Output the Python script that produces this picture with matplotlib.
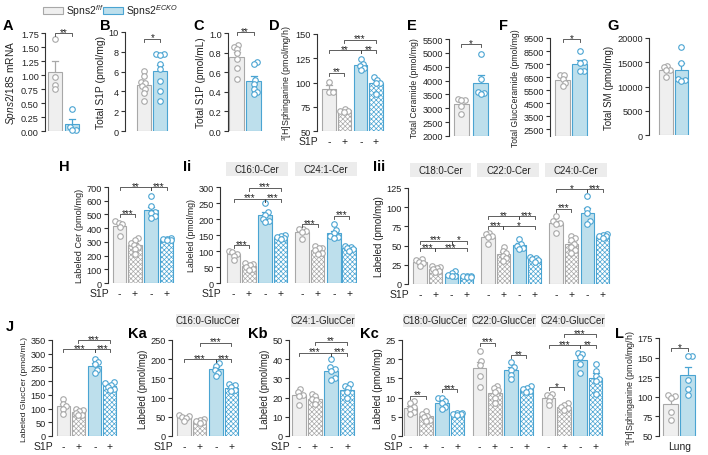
import numpy as np
import matplotlib
matplotlib.use("Agg")
import matplotlib.pyplot as plt
from matplotlib.patches import Rectangle
from matplotlib import transforms

plt.rcParams['font.family'] = ['Liberation Sans', 'DejaVu Sans']
plt.rcParams['mathtext.fontset'] = 'custom'
plt.rcParams['mathtext.rm'] = 'Liberation Sans'
plt.rcParams['mathtext.it'] = 'Liberation Sans:italic'
plt.rcParams['mathtext.bf'] = 'Liberation Sans:bold'
plt.rcParams['hatch.linewidth'] = 0.5

# ------------------------------------------------------------------ data
legend_labels = ["Spns2$^{f/f}$", "Spns2$^{ECKO}$"]
s1p_ticks = ["-", "+", "-", "+"]

A_ff = [1.65, 0.97, 0.83, 0.75]
A_ko = [0.40, 0.08, 0.02, 0.02]
B_ff = [6.1, 5.6, 5.0, 4.8, 4.5, 4.2, 3.8, 3.0]
B_ko = [7.8, 7.8, 7.7, 6.8, 6.3, 5.1, 4.0, 3.0]
C_ff = [0.88, 0.86, 0.84, 0.80, 0.73, 0.64, 0.53]
C_ko = [0.70, 0.68, 0.52, 0.48, 0.43, 0.40, 0.38]
D_groups = [[101, 90, 90], [73, 71, 71, 70],
            [124, 119, 117, 115, 113], [106, 103, 100, 99, 88]]
E_ff = [3350, 3300, 3300, 3100, 2800]
E_ko = [4950, 4050, 3600, 3550, 3500]
F_ff = [6700, 6650, 6350, 6050, 5800]
F_ko = [8500, 7650, 7600, 7000, 6950]
G_ff = [14300, 14000, 13500, 13300, 11900]
G_ko = [18100, 14800, 11600, 11300, 11200]

H_groups = [[455, 440, 430, 410, 345], [325, 310, 290, 280, 265, 245, 210],
            [635, 560, 520, 510, 490, 475], [325, 320, 318, 315, 312]]

Ii_names = ["C16:0-Cer", "C24:1-Cer"]
Ii_C16 = [[100, 97, 92, 85, 72], [62, 58, 55, 50, 45, 42],
          [250, 222, 212, 200, 195, 190], [150, 148, 145, 142, 138]]
Ii_C241 = [[170, 168, 162, 160, 138], [115, 110, 108, 102, 95, 92],
           [185, 165, 155, 148, 145, 142], [115, 112, 110, 105, 100]]

Iii_names = ["C18:0-Cer", "C22:0-Cer", "C24:0-Cer"]
Iii_C18 = [[33, 31, 29, 27, 24], [24, 22, 21, 19, 17, 15],
           [17, 14, 12, 11, 10], [11, 10, 10, 9, 9]]
Iii_C22 = [[66, 65, 63, 61, 52], [48, 43, 40, 37, 34, 30],
           [58, 52, 50, 47, 46], [35, 34, 33, 31, 29]]
Iii_C24 = [[88, 82, 80, 78, 67], [63, 60, 57, 52, 48, 44, 41],
           [115, 98, 92, 82, 78], [65, 64, 63, 62, 60]]

J_groups = [[135, 118, 110, 100, 82], [100, 95, 90, 85, 78, 75],
            [280, 270, 262, 240, 228], [197, 192, 185, 180, 170, 168]]
Ka_name = "C16:0-GlucCer"
Ka_groups = [[55, 53, 50, 47, 38], [45, 42, 40, 37, 35],
             [190, 183, 172, 165, 157], [135, 132, 127, 120, 116]]
Kb_name = "C24:1-GlucCer"
Kb_groups = [[24.5, 23, 21.5, 21, 16], [22, 21, 19.5, 18.5, 16.5],
             [40, 36, 35, 34, 30, 29], [27, 26, 25, 23, 20]]
Kc_names = ["C18:0-GlucCer", "C22:0-GlucCer", "C24:0-GlucCer"]
Kc_C18 = [[9, 8.5, 7.5, 7, 6.2, 5.8], [6.5, 5.8, 5.3, 4.9, 4.2, 4.0],
          [10, 9.8, 9, 8.5, 7.5, 7], [6.0, 5.9, 5.8, 5.6, 5.5]]
Kc_C22 = [[22.2, 19.5, 18.5, 15.5, 12.8], [13, 12.5, 12, 11.5, 10, 8.5],
          [19.3, 18, 17.2, 16, 14.8], [12.9, 12.5, 12.2, 11.8, 11.5]]
Kc_C24 = [[11, 10.8, 10.2, 9.2, 8], [8.5, 8.2, 7.5, 7.2, 6.8],
          [21.7, 21.4, 20.5, 18.7, 16.5], [18.7, 17, 15.5, 14.8, 14.4, 11]]
L_ff = [102, 101, 99, 81, 70]
L_ko = [152, 152, 121, 110, 102]
L_label = "Lung"

# significance: (bar i, bar j, level, label)
A_sig = [(0, 1, 1.75, "**")]
B_sig = [(0, 1, 9.3, "*")]
C_sig = [(0, 1, 1.01, "**")]
D_sig = [(0, 1, 110, "**"), (0, 2, 133, "**"), (2, 3, 133, "**"), (1, 3, 144, "***")]
E_sig = [(0, 1, 5320, "*")]
F_sig = [(0, 1, 9400, "*")]
H_sig = [(0, 1, 500, "***"), (0, 2, 700, "**"), (2, 3, 700, "***")]
Ii_sig = [(0, 1, 118, "***"), (0, 2, 264, "***"), (2, 3, 264, "***"), (1, 3, 298, "***"),
          (4, 5, 184, "***"), (6, 7, 210, "***")]
Iii_sig = [(0, 1, 46.6, "***"), (1, 3, 46.6, "***"), (0, 2, 56.6, "***"), (2, 3, 56.6, "*"),
           (4, 5, 75, "***"), (5, 7, 75, "*"), (4, 6, 88, "**"), (6, 7, 88, "***"),
           (8, 9, 97.7, "***"), (8, 10, 123.7, "*"), (10, 11, 123.7, "***")]
J_sig = [(0, 2, 316, "***"), (2, 3, 316, "***"), (1, 3, 350, "***")]
Ka_sig = [(0, 2, 200, "***"), (2, 3, 200, "***"), (1, 3, 243, "***")]
Kb_sig = [(0, 2, 43.4, "***"), (2, 3, 43.4, "***"), (1, 3, 49, "**")]
Kc_sig = [(0, 1, 10.5, "**"), (2, 3, 12.2, "***"),
          (4, 5, 24.3, "***"), (6, 7, 21, "**"),
          (8, 9, 12.7, "*"), (8, 10, 23.6, "***"), (10, 11, 23.6, "**"), (9, 11, 26.5, "***")]
L_sig = [(0, 1, 162, "*")]

# ------------------------------------------------------------------ style
FF_FACE, FF_EDGE = "#efefef", "#a8a8a8"
KO_FACE, KO_EDGE = "#bddfec", "#4aa4d2"
AX_C = "#333333"
SIG_C = "#444444"
W, H = 708, 456

fig = plt.figure(figsize=(W / 100, H / 100), dpi=100)


def make_ax(l, r, t, b, xlim, ylim, yticks, fmt="{:g}"):
    ax = fig.add_axes([l / W, 1 - b / H, (r - l) / W, (b - t) / H])
    ax.set_xlim(*xlim)
    ax.set_ylim(*ylim)
    ax.set_yticks(yticks)
    ax.set_yticklabels([fmt.format(v) for v in yticks])
    for s in ("top", "right", "bottom"):
        ax.spines[s].set_visible(False)
    ax.spines["left"].set_linewidth(0.8)
    ax.spines["left"].set_color(AX_C)
    ax.tick_params(axis="y", length=3, width=0.8, pad=1.5, labelsize=6.6,
                   color=AX_C, labelcolor="#222222")
    ax.tick_params(axis="x", length=0, pad=3.5, labelsize=7.5, labelcolor="#222222")
    ax.set_xticks([])
    ax.patch.set_visible(False)
    return ax


def swarm(ax, p, vals, d=4.0, maxoff=0.3):
    T = ax.transData
    vals = np.asarray(vals, float)
    ys = T.transform(np.column_stack([np.full(len(vals), p), vals]))[:, 1]
    ppx = T.transform((p + 1, 0))[0] - T.transform((p, 0))[0]
    lim = maxoff * ppx
    placed = []
    xs = np.zeros(len(vals))
    for i in np.argsort(ys):
        y = ys[i]
        cands = [0.0]
        for xo, yo in placed:
            dy = abs(y - yo)
            if dy < d:
                dx = np.sqrt(d * d - dy * dy)
                cands += [xo + dx, xo - dx]
        cands = [c for c in cands if abs(c) <= lim] + [lim, -lim]
        cands.sort(key=abs)
        best, bestov = 0.0, None
        for c in cands:
            ov = sum(max(0.0, d * d - ((c - xo) ** 2 + (y - yo) ** 2)) for xo, yo in placed)
            if ov <= 1e-6:
                best = c
                break
            if bestov is None or ov < bestov:
                best, bestov = c, ov
        placed.append((best, y))
        xs[i] = p + best / ppx
    return xs


def draw_bars(ax, positions, groups, kinds, width=0.88):
    y0 = ax.get_ylim()[0]
    ppx = ax.transData.transform((1, 0))[0] - ax.transData.transform((0, 0))[0]
    for p, vals, (ko, plus) in zip(positions, groups, kinds):
        v = np.asarray(vals, float)
        m = v.mean()
        sem = v.std(ddof=1) / np.sqrt(len(v))
        edge = KO_EDGE if ko else FF_EDGE
        if plus:
            face = "white"
            hatch = "xxxxxxx"
        else:
            face = KO_FACE if ko else FF_FACE
            hatch = None
        ax.bar(p, m - y0, bottom=y0, width=width, color=face, edgecolor=edge,
               linewidth=0.8, hatch=hatch, zorder=1)
        cw = 3.0 / ppx
        ax.plot([p, p], [m, m + sem], color=edge, lw=0.9, zorder=2, solid_capstyle="butt")
        ax.plot([p - cw, p + cw], [m + sem, m + sem], color=edge, lw=0.9, zorder=2)
        xs = swarm(ax, p, v)
        ax.scatter(xs, v, s=16, facecolors="white", edgecolors=edge,
                   linewidths=0.8, zorder=3, clip_on=False)


def draw_sig(ax, positions, sigs, tick_px=3.0):
    (lo, hi) = ax.get_ylim()
    hpx = ax.get_position().height * H
    upp = (hi - lo) / hpx
    for i, j, y, lab in sigs:
        x1, x2 = positions[i], positions[j]
        ax.plot([x1, x1, x2, x2], [y - tick_px * upp, y, y, y - tick_px * upp],
                color=SIG_C, lw=0.6, clip_on=False, zorder=4)
        ax.text((x1 + x2) / 2, y - 1.6 * upp, lab, ha="center", va="baseline",
                fontsize=7, color="#222222", clip_on=False, zorder=4)


def s1p_axis(ax, positions, labels, dy=10):
    ax.set_xticks(positions)
    ax.set_xticklabels(labels)
    ax.annotate("S1P", xy=(0, 0), xycoords="axes fraction", xytext=(1, -dy),
                textcoords="offset pixels", ha="right", va="center", fontsize=7.5,
                color="#222222")


def strip(ax, x0, x1, text, gap_px, h_px):
    hpx = ax.get_position().height * H
    tr = transforms.blended_transform_factory(ax.transData, ax.transAxes)
    y0 = 1 + gap_px / hpx
    hh = h_px / hpx
    ax.add_patch(Rectangle((x0, y0), x1 - x0, hh, transform=tr, facecolor="#ececec",
                           edgecolor="none", clip_on=False, zorder=0))
    ax.text((x0 + x1) / 2, y0 + hh / 2, text, transform=tr, ha="center", va="center",
            fontsize=7, color="#222222", clip_on=False)


def letter(x, y, s):
    fig.text(x / W, 1 - y / H, s, fontsize=10.5, fontweight="bold", ha="left", va="center")


def ylab(ax, text, size, right_px=None):
    ax.set_ylabel(text, fontsize=size, labelpad=2, color="#222222")
    if right_px is not None:
        bb = ax.get_position()
        ax.yaxis.set_label_coords((right_px / W - bb.x0) / bb.width, 0.5)


two_kinds = [(False, False), (True, False)]
four_kinds = [(False, False), (False, True), (True, False), (True, True)]

# ------------------------------------------------------------------ legend
fig.add_artist(Rectangle((43 / W, 1 - 15 / H), 20 / W, 7 / H, transform=fig.transFigure,
                         facecolor=FF_FACE, edgecolor=FF_EDGE, lw=0.8))
fig.text(66 / W, 1 - 11.5 / H, legend_labels[0], fontsize=7.5, va="center", color="#222222")
fig.add_artist(Rectangle((103 / W, 1 - 15 / H), 20 / W, 7 / H, transform=fig.transFigure,
                         facecolor=KO_FACE, edgecolor=KO_EDGE, lw=0.8))
fig.text(126 / W, 1 - 11.5 / H, legend_labels[1], fontsize=7.5, va="center", color="#222222")

# ------------------------------------------------------------------ row 1
pos2 = [0, 1]
ax = make_ax(45, 82, 34, 132, (-0.6, 1.6), (0, 1.75), np.arange(0, 1.76, 0.25), "{:.2f}")
draw_bars(ax, pos2, [A_ff, A_ko], two_kinds)
draw_sig(ax, pos2, A_sig)
ylab(ax, "$\\mathit{Spns2}$/18S mRNA", 7.3)
letter(3, 26, "A")

ax = make_ax(125, 170, 33, 132, (-1.2, 1.6), (0, 10), np.arange(0, 11, 2))
draw_bars(ax, pos2, [B_ff, B_ko], two_kinds)
draw_sig(ax, pos2, B_sig)
ylab(ax, "Total S1P (pmol/mg)", 7.4)
letter(100, 26, "B")

ax = make_ax(228, 264, 34, 132, (-0.5, 1.6), (0, 1.0), np.arange(0, 1.01, 0.2), "{:.1f}")
draw_bars(ax, pos2, [C_ff, C_ko], two_kinds)
draw_sig(ax, pos2, C_sig)
ylab(ax, "Total S1P (pmol/mL)", 7.2)
letter(193, 26, "C")

posD = [0, 1, 2.1, 3.1]
ax = make_ax(317, 385, 35, 132, (-0.8, 3.7), (50, 150), [50, 75, 100, 125, 150])
draw_bars(ax, posD, D_groups, four_kinds)
draw_sig(ax, posD, D_sig)
s1p_axis(ax, posD, s1p_ticks, dy=10)
ylab(ax, "$^{3}$[H]Sphinganine (pmol/mg/h)", 6.4, right_px=294)
letter(269, 26, "D")

ax = make_ax(449, 491, 40, 137, (-0.65, 1.55), (2000, 5500), np.arange(2000, 5501, 500))
draw_bars(ax, pos2, [E_ff, E_ko], two_kinds, width=0.8)
draw_sig(ax, pos2, E_sig)
ylab(ax, "Total Ceramide (pmol/mg)", 6.2)
letter(407, 26, "E")

ax = make_ax(550, 590, 39, 137, (-0.75, 1.6), (2000, 9500), np.arange(2500, 9501, 1000))
draw_bars(ax, pos2, [F_ff, F_ko], two_kinds)
draw_sig(ax, pos2, F_sig)
ylab(ax, "Total GlucCeramide (pmol/mg)", 6.2)
letter(499, 26, "F")

ax = make_ax(649, 691, 39, 136, (-1.05, 1.6), (0, 20000), np.arange(0, 20001, 5000))
draw_bars(ax, pos2, [G_ff, G_ko], two_kinds)
ylab(ax, "Total SM (pmol/mg)", 7.0)
letter(607, 26, "G")

# ------------------------------------------------------------------ row 2
pos4 = [0, 1, 2.05, 3.05]
ax = make_ax(108, 175, 188, 284, (-0.75, 3.6), (0, 700), np.arange(0, 701, 100))
draw_bars(ax, pos4, H_groups, four_kinds)
draw_sig(ax, pos4, H_sig)
s1p_axis(ax, pos4, s1p_ticks)
ylab(ax, "Labeled Cer (pmol/mg)", 6.6)
letter(59, 167, "H")

posIi = [0, 1, 2.05, 3.05, 4.45, 5.45, 6.5, 7.5]
ax = make_ax(220, 357, 188, 284, (-0.88, 8.0), (0, 300), np.arange(0, 301, 50))
draw_bars(ax, posIi, Ii_C16 + Ii_C241, four_kinds * 2)
draw_sig(ax, posIi, Ii_sig)
s1p_axis(ax, posIi, s1p_ticks * 2)
ylab(ax, "Labeled (pmol/mg)", 6.3)
for g, name in enumerate(Ii_names):
    strip(ax, posIi[4 * g] - 0.5, posIi[4 * g + 3] + 0.5, name, 11, 14)
letter(183, 167, "Ii")

posIii = [g * 4.45 + o for g in range(3) for o in (0, 1, 2.05, 3.05)]
ax = make_ax(408, 611, 189, 285, (-0.8, 12.5), (0, 125), np.arange(0, 126, 25))
draw_bars(ax, posIii, Iii_C18 + Iii_C22 + Iii_C24, four_kinds * 3)
draw_sig(ax, posIii, Iii_sig)
s1p_axis(ax, posIii, s1p_ticks * 3)
ylab(ax, "Labeled (pmol/mg)", 7.0)
for g, name in enumerate(Iii_names):
    strip(ax, posIii[4 * g] - 0.7, posIii[4 * g + 3] + 0.3, name, 11, 14)
letter(373, 167, "Iii")

# ------------------------------------------------------------------ row 3
posJ = [0, 1, 2.1, 3.1]
ax = make_ax(52, 118, 341, 437, (-0.77, 3.65), (0, 350), np.arange(0, 351, 50))
draw_bars(ax, posJ, J_groups, four_kinds)
draw_sig(ax, posJ, J_sig)
s1p_axis(ax, posJ, s1p_ticks)
ylab(ax, "Labeled GlucCer (pmol/mL)", 6.1)
letter(6, 327, "J")

ax = make_ax(172, 240, 341, 437, (-0.77, 3.6), (0, 250), np.arange(0, 251, 50))
draw_bars(ax, pos4, Ka_groups, four_kinds)
draw_sig(ax, pos4, Ka_sig)
s1p_axis(ax, pos4, s1p_ticks)
ylab(ax, "Labeled (pmol/mg)", 6.9)
strip(ax, pos4[0] - 0.5, pos4[3] + 0.5, Ka_name, 13, 13)
letter(128, 334, "Ka")

ax = make_ax(289, 356, 341, 437, (-0.62, 3.6), (0, 50), np.arange(0, 51, 10))
draw_bars(ax, pos4, Kb_groups, four_kinds)
draw_sig(ax, pos4, Kb_sig)
s1p_axis(ax, pos4, s1p_ticks)
ylab(ax, "Labeled (pmol/mg)", 6.9)
strip(ax, pos4[0] - 0.5, pos4[3] + 0.5, Kb_name, 13, 13)
letter(248, 334, "Kb")

posKc = [g * 4.5 + o for g in range(3) for o in (0, 1, 2.05, 3.05)]
ax = make_ax(402, 604, 341, 437, (-0.55, 12.6), (0, 25), np.arange(0, 26, 5))
draw_bars(ax, posKc, Kc_C18 + Kc_C22 + Kc_C24, four_kinds * 3)
draw_sig(ax, posKc, Kc_sig)
s1p_axis(ax, posKc, s1p_ticks * 3)
ylab(ax, "Labeled (pmol/mg)", 7.0)
for g, name in enumerate(Kc_names):
    strip(ax, posKc[4 * g] - 0.5, posKc[4 * g + 3] + 0.6, name, 13, 13)
letter(360, 334, "Kc")

ax = make_ax(659, 698, 339, 437, (-0.7, 1.6), (50, 175), np.arange(50, 176, 25))
draw_bars(ax, pos2, [L_ff, L_ko], two_kinds)
draw_sig(ax, pos2, L_sig)
ax.set_xticks([0.5])
ax.set_xticklabels([L_label])
ylab(ax, "$^{3}$[H]Sphinganine (pmol/mg/h)", 6.4, right_px=638)
letter(615, 334, "L")

fig.savefig("out.png", dpi=100)
